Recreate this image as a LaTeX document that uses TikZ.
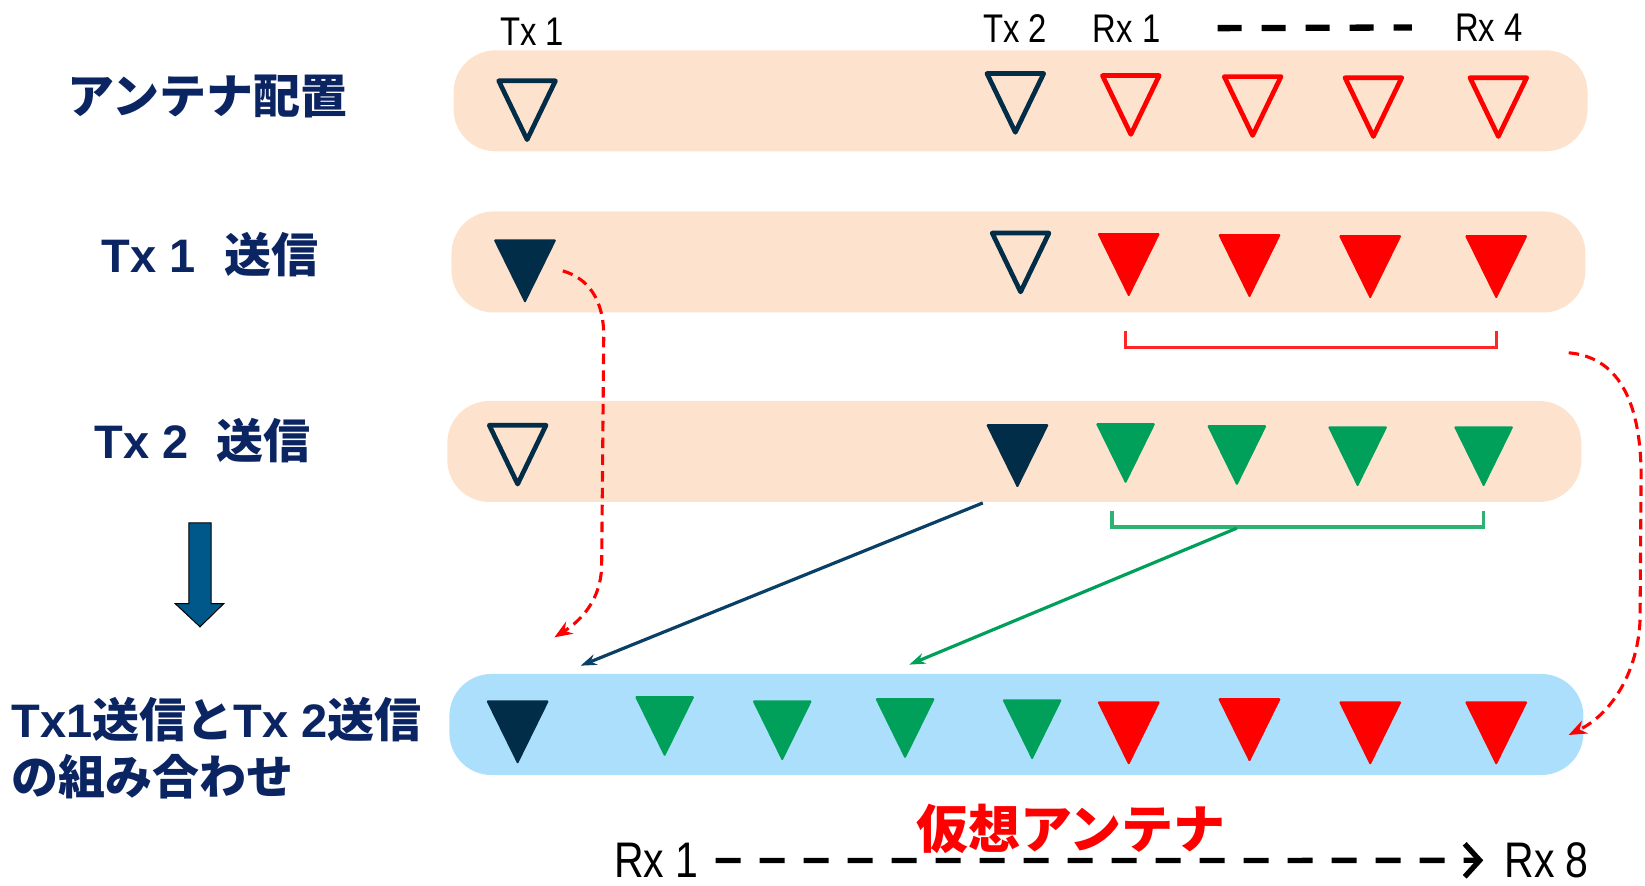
\documentclass[tikz,border=0pt]{standalone}
\usepackage{fontspec}
\setmainfont{Liberation Sans}
\newfontfamily\narrowfont[FakeStretch=0.82]{Liberation Sans}
\newfontfamily\jpfont{Noto Sans CJK JP}
\usetikzlibrary{arrows.meta}
\definecolor{peach}{HTML}{FDE3CD}
\definecolor{skyblue}{HTML}{ACDFFC}
\definecolor{antnavy}{HTML}{022D48}
\definecolor{labnavy}{HTML}{0B2462}
\definecolor{antgreen}{HTML}{00A05A}
\definecolor{brgreen}{HTML}{2DB274}
\definecolor{linenavy}{HTML}{0A3F66}
\definecolor{arrowblue}{HTML}{00578A}
\tikzset{
  antopen/.pic={\draw[pic actions, line width=4.7pt, line join=round] (-27,0) -- (27,0) -- (0,56) -- cycle;},
  antfull/.pic={\fill[pic actions, rounded corners=1.5pt] (-30,0) -- (30,0) -- (0,61) -- cycle;},
  rowbox/.style={rounded corners=42pt, minimum width=1134pt, minimum height=101pt, inner sep=0pt},
  rowlabel/.style={text=labnavy, inner sep=0pt, font=\fontsize{47}{57}\selectfont\bfseries},
  toplabel/.style={inner sep=0pt, font=\fontsize{40}{44}\selectfont\narrowfont},
  rxlabel/.style={inner sep=0pt, anchor=base, text depth=0pt, font=\fontsize{50}{55}\selectfont\narrowfont},
  redcurve/.style={red, line width=3.1pt, dash pattern=on 10.5pt off 6.3pt, -{Stealth[length=18pt,width=14pt]}},
}
\begin{document}
\begin{tikzpicture}[x=1.05pt,y=-1.05pt]
  \useasboundingbox (0,0) rectangle (1566.7,843.8);
  % rows
  \node[rowbox, fill=peach] (row1) at (972,96) {};
  \node[rowbox, fill=peach] (row2) at (970,249.5) {};
  \node[rowbox, fill=peach] (row3) at (966,430) {};
  \node[rowbox, fill=skyblue] (row4) at (968,690) {};
  % labels on the left
  \node[rowlabel] (lab1) at (198,92) {\jpfont アンテナ配置};
  \node[rowlabel] (lab2) at (200,242) {Tx 1\hspace{0.6em}\jpfont 送信};
  \node[rowlabel] (lab3) at (193,420) {Tx 2\hspace{0.6em}\jpfont 送信};
  \node[rowlabel, align=left, anchor=west] (lab4) at (11,713)
    {Tx1\jpfont 送信と\rmfamily Tx 2\jpfont 送信\\\jpfont の組み合わせ};
  \fill[arrowblue, draw=black, line width=1pt] (180,498) -- (201,498) -- (201,575) -- (213,575)
    -- (190.5,597) -- (167,575) -- (180,575) -- cycle;
  % top labels
  \node[toplabel] (tx1) at (507,30) {Tx 1};
  \node[toplabel] (tx2) at (967,27) {Tx 2};
  \node[toplabel] (rx1) at (1073,27) {Rx 1};
  \node[toplabel] (rx4) at (1418,26) {Rx 4};
  \draw[line width=6.3pt, dash pattern=on 24pt off 20pt, shorten <=57pt, shorten >=43pt]
    (rx1.east) -- (rx4.west);
  % row 1
  \pic[draw=antnavy] at (502,77) {antopen};
  \pic[draw=antnavy] at (967,70) {antopen};
  \foreach \x/\y in {1077/72,1193/73,1308/74,1427/74}
    \pic[draw=red] at (\x,\y) {antopen};
  % row 2
  \pic[fill=antnavy] at (500,228) {antfull};
  \pic[draw=antnavy] at (972,222) {antopen};
  \foreach \x/\y in {1075/222,1190/223,1305/224,1425/224}
    \pic[fill=red] at (\x,\y) {antfull};
  % row 3
  \pic[draw=antnavy] at (493,405) {antopen};
  \pic[fill=antnavy] at (969,404) {antfull};
  \foreach \x/\y in {1072/403,1178/405,1293/406,1413/406}
    \pic[fill=antgreen, scale=0.95] at (\x,\y) {antfull};
  % row 4
  \pic[fill=antnavy] at (493,667) {antfull};
  \foreach \x/\y in {633/663,745/667,862/665,983/666}
    \pic[fill=antgreen, scale=0.95] at (\x,\y) {antfull};
  \foreach \x/\y in {1075/668,1190/665,1305/668,1425/668}
    \pic[fill=red] at (\x,\y) {antfull};
  % brackets
  \draw[red!85!white, line width=3.2pt] (1072,315) |- (1425,331) -- (1425,315);
  \draw[brgreen, line width=3.2pt] (1059,487) |- (1413,502) -- (1413,487);
  % connectors
  \coordinate (c1s) at (536,258);
  \coordinate (c1e) at (528,607);
  \coordinate (c2s) at (1494,336);
  \coordinate (c2e) at (1494,700);
  \coordinate (n1) at (936,479);
  \coordinate (n2) at (553,634);
  \coordinate (g1) at (1178,503);
  \coordinate (g2) at (866,633);
  \draw[redcurve] (c1s) .. controls (560,265) and (575,285) .. (575,320) -- (573,540)
    .. controls (572,570) and (555,590) .. (c1e);
  \draw[redcurve] (c2s) .. controls (1540,340) and (1562,380) .. (1563,450) -- (1562,590)
    .. controls (1560,640) and (1535,680) .. (c2e);
  \draw[linenavy, line width=3.2pt, -{Stealth[length=16pt,width=11pt]}] (n1) -- (n2);
  \draw[antgreen, line width=3.2pt, -{Stealth[length=16pt,width=11pt]}] (g1) -- (g2);
  % virtual array
  \node[text=red, inner sep=0pt, font=\fontsize{52}{57}\selectfont\bfseries\jpfont] (virt) at (1020,789) {仮想アンテナ};
  \node[rxlabel] (rxa) at (625,836) {Rx 1};
  \node[rxlabel] (rxb) at (1473,836) {Rx 8};
  \draw[line width=5.3pt, dash pattern=on 25pt off 19pt, shorten <=17pt, shorten >=21pt,
    -{Straight Barb[length=15pt,width=33pt]}] (rxa.east) -- (rxb.west);
\end{tikzpicture}
\end{document}
